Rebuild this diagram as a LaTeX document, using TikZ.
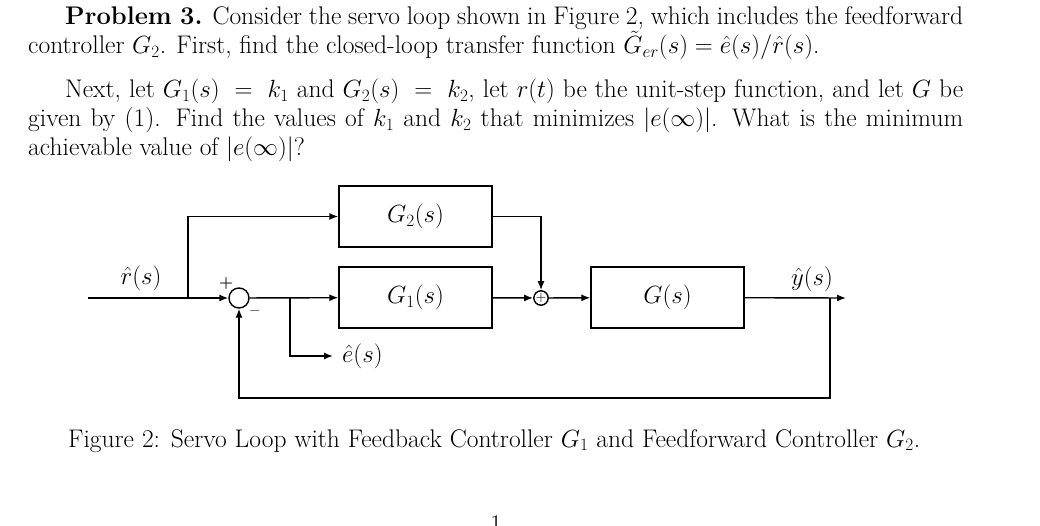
\documentclass[tikz,border=0pt]{standalone}
\usetikzlibrary{arrows.meta}
\begin{document}
\begin{tikzpicture}[x=1pt,y=-1pt,
  every node/.style={inner sep=0pt,font=\fontsize{25.5}{30}\selectfont},
  line/.style={line width=1.4pt},
  arr/.style={line, -{Latex[length=9pt,width=7pt]}},
  blk/.style={draw,line width=1.4pt,minimum width=153pt,minimum height=61pt},
  txt/.style={anchor=base west}]
\useasboundingbox (0,0) rectangle (1040,526);
% text
\node[txt] (l1) at (65,25) {\makebox[898pt][s]{\textbf{Problem 3.} Consider the servo loop shown in Figure 2, which includes the feedforward}};
\node[txt] (l2) at (28,54) {controller $G_2$. First, find the closed-loop transfer function $\tilde{G}_{er}(s)=\hat{e}(s)/\hat{r}(s)$.};
\node[txt] (l3) at (65,98) {\makebox[898pt][s]{Next, let $G_1(s)\;=\;k_1$ and $G_2(s)\;=\;k_2$, let $r(t)$ be the unit-step function, and let $G$ be}};
\node[txt] (l4) at (28,127) {\makebox[935pt][s]{given by (1). Find the values of $k_1$ and $k_2$ that minimizes $|e(\infty)|$. What is the minimum}};
\node[txt] (l5) at (28,156) {achievable value of $|e(\infty)|$?};
\node[txt] (cap) at (68,447) {\makebox[852pt][s]{Figure 2: Servo Loop with Feedback Controller $G_1$ and Feedforward Controller $G_2$.}};
\node[txt] (pg) at (490,532) {1};
% diagram
\node[blk] (g2) at (415.5,216.5) {$G_2(s)$};
\node[blk] (g1) at (415.5,297.5) {$G_1(s)$};
\node[blk] (g) at (667.5,297.5) {$G(s)$};
\node[draw,circle,line width=1.4pt,minimum size=20pt] (s1) at (239,298) {};
\node[draw,circle,line width=1.4pt,minimum size=13pt,font=\fontsize{14}{14}\selectfont] (s2) at (541,298) {$+$};
\coordinate (in) at (88,298);
\coordinate (b1) at (188,298);
\coordinate (b2) at (290,298);
\coordinate (out) at (846,298);
\coordinate (b3) at (830,298);
\node[anchor=west] (e) at (342,356) {$\hat{e}(s)$};
\node (r) at (141,278) {$\hat{r}(s)$};
\node (y) at (812,279) {$\hat{y}(s)$};
\node[font=\fontsize{16}{16}\selectfont\bfseries] (p) at (226,284) {+};
\node[font=\fontsize{16}{16}\selectfont\bfseries] (m) at (255,313) {--};
\draw[arr] (in) -- (s1);
\draw[arr] (b1) |- (g2);
\draw[arr] (s1) -- (g1);
\draw[arr] (b2) |- ([xshift=-9pt]e.west);
\draw[arr] (g2) -| (s2);
\draw[arr] (g1) -- (s2);
\draw[arr] (s2) -- (g);
\draw[arr] (g) -- (out);
\draw[arr] (b3) |- (239,398) -- (s1);
\end{tikzpicture}
\end{document}
